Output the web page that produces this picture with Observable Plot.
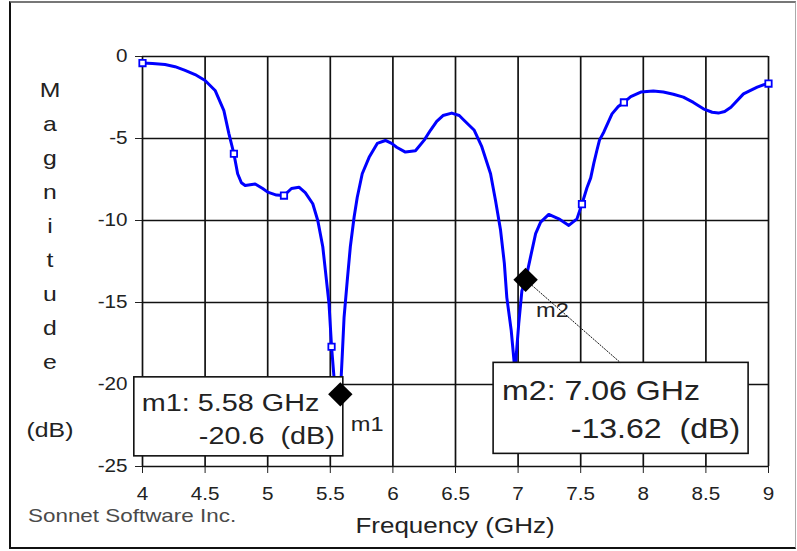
<!DOCTYPE html>
<html><head><meta charset="utf-8">
<script src="https://cdn.jsdelivr.net/npm/d3@7"></script>
<script src="https://cdn.jsdelivr.net/npm/@observablehq/plot@0.6"></script>
<style>
html,body{margin:0;padding:0;background:#fff;}
#wrap{position:relative;width:797px;height:551px;overflow:hidden;}
#wrap svg{display:block;}
#frame{position:absolute;left:9px;top:1px;width:787px;height:548px;box-sizing:border-box;border-left:2px solid #111;border-top:2px solid #777;border-bottom:2px solid #111;border-right:1px solid #aaa;pointer-events:none;}
</style></head><body><div id="wrap"><div id="frame"></div></div>
<script>
// ---- data ----
const freqGHz = [4.00,4.08,4.18,4.26,4.34,4.42,4.50,4.58,4.65,4.69,4.73,4.76,4.79,4.82,4.90,4.96,5.00,5.07,5.13,5.19,5.25,5.30,5.36,5.40,5.44,5.46,5.49,5.51,5.53,5.55,5.565,5.58,5.595,5.61,5.635,5.66,5.69,5.715,5.755,5.81,5.875,5.94,5.99,6.03,6.10,6.18,6.25,6.30,6.35,6.40,6.47,6.53,6.57,6.65,6.71,6.78,6.82,6.86,6.89,6.91,6.945,6.975,7.005,7.03,7.06,7.10,7.14,7.18,7.245,7.325,7.405,7.47,7.51,7.55,7.58,7.605,7.63,7.65,7.685,7.75,7.80,7.845,7.90,7.98,8.08,8.16,8.24,8.32,8.40,8.48,8.55,8.60,8.65,8.70,8.80,8.91,8.97,9.00];
const magDb = [-0.40,-0.42,-0.49,-0.62,-0.85,-1.10,-1.46,-2.07,-3.30,-4.70,-5.93,-7.15,-7.70,-7.87,-7.77,-8.05,-8.27,-8.45,-8.48,-8.05,-7.97,-8.30,-8.98,-10.0,-11.6,-13.0,-15.1,-17.7,-19.6,-21.4,-22.0,-20.6,-18.3,-15.9,-13.7,-11.6,-9.8,-8.6,-7.15,-6.15,-5.3,-5.12,-5.3,-5.53,-5.83,-5.75,-5.1,-4.5,-3.95,-3.6,-3.45,-3.6,-3.9,-4.5,-5.5,-7.15,-8.8,-10.6,-12.6,-14.7,-16.7,-19.2,-16.3,-14.3,-13.62,-12.2,-10.8,-10.1,-9.63,-9.9,-10.3,-9.9,-9.0,-8.0,-7.4,-6.5,-5.7,-5.1,-4.6,-3.5,-3.05,-2.8,-2.45,-2.17,-2.1,-2.17,-2.3,-2.48,-2.8,-3.19,-3.4,-3.45,-3.35,-3.09,-2.28,-1.87,-1.7,-1.65];
const squareFreq = [4.00, 4.73, 5.13, 5.51, 7.51, 7.845, 9.00];
const squareDb = [-0.40, -5.93, -8.48, -17.7, -9.0, -2.8, -1.65];
const markerNames = ["m1", "m2"];
const markerFreq = [5.58, 7.06];
const markerDb = [-20.6, -13.62];
const xTicks = [4, 4.5, 5, 5.5, 6, 6.5, 7, 7.5, 8, 8.5, 9];
const yTicks = [0, -5, -10, -15, -20, -25];
const yTitleLetters = ["M", "a", "g", "n", "i", "t", "u", "d", "e"];
const yTitleUnit = "(dB)";
const xTitle = "Frequency (GHz)";
const credit = "Sonnet Software Inc.";

// ---- drawing ----
const FONT = "'Liberation Sans', Arial, sans-serif";
const STRETCH = 1.18;
const curve = freqGHz.map((f, i) => ({f, db: magDb[i]}));
const squares = squareFreq.map((f, i) => ({f, db: squareDb[i]}));
const markers = markerNames.map((name, i) => ({name, f: markerFreq[i], db: markerDb[i]}));

const plot = Plot.plot({
  width: 797, height: 551,
  marginLeft: 142, marginRight: 29, marginTop: 56, marginBottom: 85,
  style: {fontFamily: FONT, fontSize: "17.5px", color: "#222", background: "transparent"},
  x: {domain: [4, 9], ticks: xTicks, tickSize: 7, tickPadding: 14, tickFormat: d => String(d), label: null},
  y: {domain: [-25, 0], ticks: yTicks, tickSize: 7, tickPadding: 8, tickFormat: d => String(d), label: null},
  marks: [
    Plot.ruleX(xTicks, {stroke: "#111", strokeWidth: 1.7}),
    Plot.ruleY(yTicks, {stroke: "#111", strokeWidth: 1.7}),
    Plot.line(curve, {x: "f", y: "db", stroke: "#0000ff", strokeWidth: 3, curve: "linear"}),
    Plot.dot(squares, {x: "f", y: "db", symbol: "square", r: 3.6, stroke: "#0000ff", fill: "#fff", strokeWidth: 1.8}),
    Plot.dot(markers, {x: "f", y: "db", symbol: "diamond2", r: 11, fill: "#000", stroke: "none"})
  ]
});

const wrap = document.getElementById("wrap");
wrap.insertBefore(plot, wrap.firstChild);

const sx = plot.scale("x"), sy = plot.scale("y");
const dotGroups = plot.querySelectorAll('g[aria-label="dot"]');
const diamondG = dotGroups[dotGroups.length - 1];

// marker read-out boxes (pixel offsets relative to each marker)
const boxLayout = {
  m1: {left: -206, right: 3, top: -17, bottom: 62, b1: 34, b2: 67, padL: 8, padR: 8, size: 24.4, lead: null},
  m2: {left: -32, right: 223, top: 83, bottom: 174, b1: 38, b2: 76, padL: 9, padR: 8, size: 27.2, lead: 127}
};
const ann = document.createElementNS("http://www.w3.org/2000/svg", "g");
plot.insertBefore(ann, diamondG);
const g = d3.select(ann).attr("font-family", FONT).attr("fill", "#222").attr("text-anchor", "start");
for (const m of markers) {
  const L = boxLayout[m.name];
  const px = sx.apply(m.f), py = sy.apply(m.db);
  const x0 = px + L.left, x1 = px + L.right, y0 = py + L.top, y1 = py + L.bottom;
  g.append("rect").attr("x", x0).attr("y", y0).attr("width", x1 - x0).attr("height", y1 - y0)
    .attr("fill", "#fff").attr("stroke", "#111").attr("stroke-width", 1.6);
  g.append("text").attr("x", x0 + L.padL).attr("y", y0 + L.b1).attr("font-size", L.size)
    .attr("text-anchor", "start").style("white-space", "pre").text(`${m.name}: ${m.f.toFixed(2)} GHz`);
  g.append("text").attr("x", x1 - L.padR).attr("y", y0 + L.b2).attr("font-size", L.size)
    .attr("text-anchor", "end").style("white-space", "pre").text(`${m.db}  (dB)`);
  if (L.lead != null) {
    g.append("line").attr("x1", px).attr("y1", py).attr("x2", x0 + L.lead).attr("y2", y0)
      .attr("stroke", "#111").attr("stroke-width", 1).attr("stroke-dasharray", "2 1");
  }
}
// marker name labels on top
const overlay = d3.select(plot).append("g").attr("font-family", FONT).attr("fill", "#222").attr("text-anchor", "start");
for (const m of markers) {
  overlay.append("text").attr("x", sx.apply(m.f) + 11).attr("y", sy.apply(m.db) + 37.5)
    .attr("text-anchor", "start").attr("font-size", 20).text(m.name);
}
// axis titles and credit
const yT = overlay.append("g").attr("font-size", 21).attr("text-anchor", "middle");
yTitleLetters.forEach((ch, i) => yT.append("text").attr("x", 50).attr("y", 97 + 34 * i).text(ch));
yT.append("text").attr("x", 50).attr("y", 437).text(yTitleUnit);
overlay.append("text").attr("x", (sx.apply(4) + sx.apply(9)) / 2).attr("y", sy.apply(-25) + 67)
  .attr("font-size", 22).attr("text-anchor", "middle").text(xTitle);
overlay.append("text").attr("x", 28).attr("y", 521.5).attr("font-size", 19).attr("text-anchor", "start")
  .attr("fill", "#4a4a4a").text(credit);

// horizontal stretch of all text, as in the reference rendering
plot.querySelectorAll("text").forEach(t => {
  const len = t.getComputedTextLength();
  if (len > 0) {
    t.setAttribute("textLength", (len * STRETCH).toFixed(2));
    t.setAttribute("lengthAdjust", "spacingAndGlyphs");
  }
});
</script></body></html>
